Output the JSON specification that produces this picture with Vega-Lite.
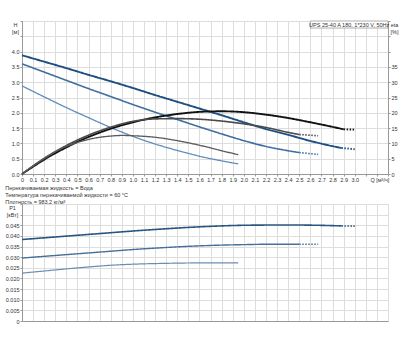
{
  "$schema": "https://vega.github.io/schema/vega-lite/v6.json",
  "background": "white",
  "padding": {"left": 4, "top": 18, "right": 2, "bottom": 2},
  "spacing": 2,
  "config": {
    "font": "Liberation Sans",
    "view": {"stroke": "#a8a8a8", "strokeWidth": 1},
    "axis": {
      "labelFontSize": 5.5, "labelColor": "#333", "gridColor": "#dddddd", "gridWidth": 1,
      "domainColor": "#999", "tickColor": "#999", "tickSize": 2, "labelPadding": 1,
      "labelOverlap": false, "labelFlush": false,
      "titleFontSize": 5.5, "titleFontWeight": "normal", "titleColor": "#333"
    },
    "title": {"fontSize": 5.5, "fontWeight": "normal", "color": "#333", "anchor": "start", "lineHeight": 7, "offset": -3}
  },
  "datasets": {
    "H": [
      {"s": "3", "seg": "a", "q": 0.0, "v": 3.88}, {"s": "3", "seg": "a", "q": 0.2, "v": 3.67}, {"s": "3", "seg": "a", "q": 0.4, "v": 3.46},
      {"s": "3", "seg": "a", "q": 0.6, "v": 3.24}, {"s": "3", "seg": "a", "q": 0.8, "v": 3.03}, {"s": "3", "seg": "a", "q": 1.0, "v": 2.81},
      {"s": "3", "seg": "a", "q": 1.2, "v": 2.58}, {"s": "3", "seg": "a", "q": 1.4, "v": 2.36}, {"s": "3", "seg": "a", "q": 1.6, "v": 2.14},
      {"s": "3", "seg": "a", "q": 1.8, "v": 1.92}, {"s": "3", "seg": "a", "q": 2.0, "v": 1.69}, {"s": "3", "seg": "a", "q": 2.2, "v": 1.47},
      {"s": "3", "seg": "a", "q": 2.4, "v": 1.28}, {"s": "3", "seg": "a", "q": 2.6, "v": 1.08}, {"s": "3", "seg": "a", "q": 2.8, "v": 0.91},
      {"s": "3", "seg": "a", "q": 2.88, "v": 0.85}, {"s": "3", "seg": "b", "q": 2.88, "v": 0.85}, {"s": "3", "seg": "b", "q": 3.0, "v": 0.81},
      {"s": "2", "seg": "a", "q": 0.0, "v": 3.60}, {"s": "2", "seg": "a", "q": 0.2, "v": 3.33}, {"s": "2", "seg": "a", "q": 0.4, "v": 3.06},
      {"s": "2", "seg": "a", "q": 0.6, "v": 2.79}, {"s": "2", "seg": "a", "q": 0.8, "v": 2.53}, {"s": "2", "seg": "a", "q": 1.0, "v": 2.27},
      {"s": "2", "seg": "a", "q": 1.2, "v": 2.02}, {"s": "2", "seg": "a", "q": 1.4, "v": 1.78}, {"s": "2", "seg": "a", "q": 1.6, "v": 1.54},
      {"s": "2", "seg": "a", "q": 1.8, "v": 1.31}, {"s": "2", "seg": "a", "q": 2.0, "v": 1.09}, {"s": "2", "seg": "a", "q": 2.2, "v": 0.90},
      {"s": "2", "seg": "a", "q": 2.4, "v": 0.76}, {"s": "2", "seg": "a", "q": 2.5, "v": 0.70}, {"s": "2", "seg": "b", "q": 2.5, "v": 0.70},
      {"s": "2", "seg": "b", "q": 2.67, "v": 0.64},
      {"s": "1", "seg": "a", "q": 0.0, "v": 2.88}, {"s": "1", "seg": "a", "q": 0.2, "v": 2.52}, {"s": "1", "seg": "a", "q": 0.4, "v": 2.17},
      {"s": "1", "seg": "a", "q": 0.6, "v": 1.84}, {"s": "1", "seg": "a", "q": 0.8, "v": 1.52}, {"s": "1", "seg": "a", "q": 1.0, "v": 1.23},
      {"s": "1", "seg": "a", "q": 1.2, "v": 0.98}, {"s": "1", "seg": "a", "q": 1.4, "v": 0.77}, {"s": "1", "seg": "a", "q": 1.6, "v": 0.58},
      {"s": "1", "seg": "a", "q": 1.8, "v": 0.43}, {"s": "1", "seg": "a", "q": 1.95, "v": 0.33}
    ],
    "ETA": [
      {"s": "3", "seg": "a", "q": 0.0, "v": 0}, {"s": "3", "seg": "a", "q": 0.1, "v": 2.4}, {"s": "3", "seg": "a", "q": 0.2, "v": 4.7},
      {"s": "3", "seg": "a", "q": 0.3, "v": 6.8}, {"s": "3", "seg": "a", "q": 0.4, "v": 8.7}, {"s": "3", "seg": "a", "q": 0.5, "v": 10.5},
      {"s": "3", "seg": "a", "q": 0.6, "v": 12.1}, {"s": "3", "seg": "a", "q": 0.8, "v": 14.8}, {"s": "3", "seg": "a", "q": 1.0, "v": 16.9},
      {"s": "3", "seg": "a", "q": 1.2, "v": 18.5}, {"s": "3", "seg": "a", "q": 1.4, "v": 19.6}, {"s": "3", "seg": "a", "q": 1.6, "v": 20.3},
      {"s": "3", "seg": "a", "q": 1.8, "v": 20.5}, {"s": "3", "seg": "a", "q": 2.0, "v": 20.2}, {"s": "3", "seg": "a", "q": 2.2, "v": 19.4},
      {"s": "3", "seg": "a", "q": 2.4, "v": 18.3}, {"s": "3", "seg": "a", "q": 2.6, "v": 16.9}, {"s": "3", "seg": "a", "q": 2.8, "v": 15.4},
      {"s": "3", "seg": "a", "q": 2.9, "v": 14.6}, {"s": "3", "seg": "b", "q": 2.9, "v": 14.6}, {"s": "3", "seg": "b", "q": 3.0, "v": 14.5},
      {"s": "2", "seg": "a", "q": 0.0, "v": 0}, {"s": "2", "seg": "a", "q": 0.1, "v": 2.6}, {"s": "2", "seg": "a", "q": 0.2, "v": 5.0},
      {"s": "2", "seg": "a", "q": 0.3, "v": 7.3}, {"s": "2", "seg": "a", "q": 0.4, "v": 9.3}, {"s": "2", "seg": "a", "q": 0.5, "v": 11.1},
      {"s": "2", "seg": "a", "q": 0.6, "v": 12.7}, {"s": "2", "seg": "a", "q": 0.8, "v": 15.3}, {"s": "2", "seg": "a", "q": 1.0, "v": 17.2},
      {"s": "2", "seg": "a", "q": 1.2, "v": 18.0}, {"s": "2", "seg": "a", "q": 1.4, "v": 18.1}, {"s": "2", "seg": "a", "q": 1.6, "v": 17.9},
      {"s": "2", "seg": "a", "q": 1.8, "v": 17.3}, {"s": "2", "seg": "a", "q": 2.0, "v": 16.4}, {"s": "2", "seg": "a", "q": 2.2, "v": 15.2},
      {"s": "2", "seg": "a", "q": 2.4, "v": 13.6}, {"s": "2", "seg": "a", "q": 2.5, "v": 12.9}, {"s": "2", "seg": "b", "q": 2.5, "v": 12.9},
      {"s": "2", "seg": "b", "q": 2.67, "v": 12.5},
      {"s": "1", "seg": "a", "q": 0.0, "v": 0}, {"s": "1", "seg": "a", "q": 0.1, "v": 2.7}, {"s": "1", "seg": "a", "q": 0.2, "v": 5.2},
      {"s": "1", "seg": "a", "q": 0.3, "v": 7.3}, {"s": "1", "seg": "a", "q": 0.4, "v": 9.0}, {"s": "1", "seg": "a", "q": 0.5, "v": 10.3},
      {"s": "1", "seg": "a", "q": 0.6, "v": 11.3}, {"s": "1", "seg": "a", "q": 0.7, "v": 12.0}, {"s": "1", "seg": "a", "q": 0.8, "v": 12.4},
      {"s": "1", "seg": "a", "q": 0.9, "v": 12.6}, {"s": "1", "seg": "a", "q": 1.0, "v": 12.5}, {"s": "1", "seg": "a", "q": 1.2, "v": 12.0},
      {"s": "1", "seg": "a", "q": 1.4, "v": 10.9}, {"s": "1", "seg": "a", "q": 1.6, "v": 9.4}, {"s": "1", "seg": "a", "q": 1.8, "v": 7.6},
      {"s": "1", "seg": "a", "q": 1.95, "v": 6.3}
    ],
    "P1": [
      {"s": "3", "seg": "a", "q": 0.0, "v": 0.0383}, {"s": "3", "seg": "a", "q": 0.25, "v": 0.0393}, {"s": "3", "seg": "a", "q": 0.5, "v": 0.0403},
      {"s": "3", "seg": "a", "q": 0.75, "v": 0.0413}, {"s": "3", "seg": "a", "q": 1.0, "v": 0.0423}, {"s": "3", "seg": "a", "q": 1.25, "v": 0.0432},
      {"s": "3", "seg": "a", "q": 1.5, "v": 0.0440}, {"s": "3", "seg": "a", "q": 1.75, "v": 0.0446}, {"s": "3", "seg": "a", "q": 2.0, "v": 0.0450},
      {"s": "3", "seg": "a", "q": 2.25, "v": 0.0451}, {"s": "3", "seg": "a", "q": 2.5, "v": 0.0451}, {"s": "3", "seg": "a", "q": 2.75, "v": 0.0449},
      {"s": "3", "seg": "a", "q": 2.88, "v": 0.0447}, {"s": "3", "seg": "b", "q": 2.88, "v": 0.0447}, {"s": "3", "seg": "b", "q": 3.0, "v": 0.0446},
      {"s": "2", "seg": "a", "q": 0.0, "v": 0.0296}, {"s": "2", "seg": "a", "q": 0.25, "v": 0.0306}, {"s": "2", "seg": "a", "q": 0.5, "v": 0.0316},
      {"s": "2", "seg": "a", "q": 0.75, "v": 0.0326}, {"s": "2", "seg": "a", "q": 1.0, "v": 0.0336}, {"s": "2", "seg": "a", "q": 1.25, "v": 0.0344},
      {"s": "2", "seg": "a", "q": 1.5, "v": 0.0351}, {"s": "2", "seg": "a", "q": 1.75, "v": 0.0356}, {"s": "2", "seg": "a", "q": 2.0, "v": 0.0359},
      {"s": "2", "seg": "a", "q": 2.25, "v": 0.0361}, {"s": "2", "seg": "a", "q": 2.5, "v": 0.0361}, {"s": "2", "seg": "b", "q": 2.5, "v": 0.0361},
      {"s": "2", "seg": "b", "q": 2.67, "v": 0.0361},
      {"s": "1", "seg": "a", "q": 0.0, "v": 0.0225}, {"s": "1", "seg": "a", "q": 0.2, "v": 0.0235}, {"s": "1", "seg": "a", "q": 0.4, "v": 0.0245},
      {"s": "1", "seg": "a", "q": 0.6, "v": 0.0254}, {"s": "1", "seg": "a", "q": 0.8, "v": 0.0262}, {"s": "1", "seg": "a", "q": 1.0, "v": 0.0267},
      {"s": "1", "seg": "a", "q": 1.2, "v": 0.0270}, {"s": "1", "seg": "a", "q": 1.4, "v": 0.0272}, {"s": "1", "seg": "a", "q": 1.6, "v": 0.0273},
      {"s": "1", "seg": "a", "q": 1.8, "v": 0.0273}, {"s": "1", "seg": "a", "q": 1.95, "v": 0.0273}
    ]
  },
  "vconcat": [
    {
      "width": 366,
      "height": 153,
      "layer": [
        {
          "layer": [
            {
              "data": {"name": "H"},
              "mark": {"type": "line", "interpolate": "monotone"},
              "encoding": {
                "x": {"field": "q", "type": "quantitative",
                  "scale": {"domain": [0, 3.3], "nice": false, "zero": false},
                  "axis": {"values": [0,0.1,0.2,0.3,0.4,0.5,0.6,0.7,0.8,0.9,1.0,1.1,1.2,1.3,1.4,1.5,1.6,1.7,1.8,1.9,2.0,2.1,2.2,2.3,2.4,2.5,2.6,2.7,2.8,2.9,3.0,3.1,3.2,3.3],
                    "labelExpr": "datum.value > 3.05 ? '' : (datum.value == 0 ? '0' : format(datum.value, '.1f'))",
                    "labelOverlap": false, "labelAngle": 0,
                    "title": "Q [м³/ч]", "titleX": 348, "titleY": 3, "titleAlign": "left", "titleBaseline": "top"}},
                "y": {"field": "v", "type": "quantitative",
                  "scale": {"domain": [0, 5], "nice": false},
                  "axis": {"values": [0,0.5,1,1.5,2,2.5,3,3.5,4,4.5,5],
                    "labelOverlap": false,
                    "labelExpr": "datum.value > 4.05 ? '' : format(datum.value, '.1f')",
                    "title": ["H", "[м]"], "titleAngle": 0, "titleX": -7, "titleY": 1, "titleAlign": "center", "titleBaseline": "top"}},
                "color": {"field": "s", "type": "nominal", "legend": null,
                  "scale": {"domain": ["3", "2", "1"], "range": ["#1d4f82", "#3f6f9f", "#5e8cbc"]}},
                "strokeWidth": {"field": "s", "type": "nominal", "legend": null,
                  "scale": {"domain": ["3", "2", "1"], "range": [1.9, 1.3, 1.3]}},
                "strokeDash": {"field": "seg", "type": "nominal", "legend": null,
                  "scale": {"domain": ["a", "b"], "range": [[1, 0], [1.5, 1.5]]}},
                "detail": [{"field": "s"}, {"field": "seg"}]
              }
            },
            {
              "data": {"values": [{"label": "UPS 25-40 A 180, 1*230 V, 50Hz"}]},
              "mark": {"type": "rect", "fill": "white", "stroke": "#999", "strokeWidth": 0.8},
              "encoding": {
                "x": {"datum": 2.6, "type": "quantitative",
                  "scale": {"domain": [0, 3.3], "nice": false, "zero": false},
                  "axis": {"values": [0,0.1,0.2,0.3,0.4,0.5,0.6,0.7,0.8,0.9,1.0,1.1,1.2,1.3,1.4,1.5,1.6,1.7,1.8,1.9,2.0,2.1,2.2,2.3,2.4,2.5,2.6,2.7,2.8,2.9,3.0,3.1,3.2,3.3],
                    "labelExpr": "datum.value > 3.05 ? '' : (datum.value == 0 ? '0' : format(datum.value, '.1f'))",
                    "labelOverlap": false, "labelAngle": 0,
                    "title": "Q [м³/ч]", "titleX": 348, "titleY": 3, "titleAlign": "left", "titleBaseline": "top"}},
                "x2": {"datum": 3.3},
                "y": {"datum": 4.77, "type": "quantitative",
                  "scale": {"domain": [0, 5], "nice": false},
                  "axis": {"values": [0,0.5,1,1.5,2,2.5,3,3.5,4,4.5,5],
                    "labelOverlap": false,
                    "labelExpr": "datum.value > 4.05 ? '' : format(datum.value, '.1f')",
                    "title": ["H", "[м]"], "titleAngle": 0, "titleX": -7, "titleY": 1, "titleAlign": "center", "titleBaseline": "top"}},
                "y2": {"datum": 5.0}
              }
            },
            {
              "data": {"values": [{"label": "UPS 25-40 A 180, 1*230 V, 50Hz"}]},
              "mark": {"type": "text", "fontSize": 5.5, "color": "#333", "align": "center", "baseline": "middle"},
              "encoding": {
                "x": {"datum": 2.95, "type": "quantitative",
                  "scale": {"domain": [0, 3.3], "nice": false, "zero": false},
                  "axis": {"values": [0,0.1,0.2,0.3,0.4,0.5,0.6,0.7,0.8,0.9,1.0,1.1,1.2,1.3,1.4,1.5,1.6,1.7,1.8,1.9,2.0,2.1,2.2,2.3,2.4,2.5,2.6,2.7,2.8,2.9,3.0,3.1,3.2,3.3],
                    "labelExpr": "datum.value > 3.05 ? '' : (datum.value == 0 ? '0' : format(datum.value, '.1f'))",
                    "labelOverlap": false, "labelAngle": 0,
                    "title": "Q [м³/ч]", "titleX": 348, "titleY": 3, "titleAlign": "left", "titleBaseline": "top"}},
                "y": {"datum": 4.885, "type": "quantitative",
                  "scale": {"domain": [0, 5], "nice": false},
                  "axis": {"values": [0,0.5,1,1.5,2,2.5,3,3.5,4,4.5,5],
                    "labelOverlap": false,
                    "labelExpr": "datum.value > 4.05 ? '' : format(datum.value, '.1f')",
                    "title": ["H", "[м]"], "titleAngle": 0, "titleX": -7, "titleY": 1, "titleAlign": "center", "titleBaseline": "top"}},
                "text": {"field": "label"}
              }
            }
          ]
        },
        {
          "data": {"name": "ETA"},
          "mark": {"type": "line", "interpolate": "monotone"},
          "encoding": {
            "x": {"field": "q", "type": "quantitative",
              "scale": {"domain": [0, 3.3], "nice": false, "zero": false},
              "axis": {"values": [0,0.1,0.2,0.3,0.4,0.5,0.6,0.7,0.8,0.9,1.0,1.1,1.2,1.3,1.4,1.5,1.6,1.7,1.8,1.9,2.0,2.1,2.2,2.3,2.4,2.5,2.6,2.7,2.8,2.9,3.0,3.1,3.2,3.3],
                "labelExpr": "datum.value > 3.05 ? '' : (datum.value == 0 ? '0' : format(datum.value, '.1f'))",
                "labelOverlap": false, "labelAngle": 0,
                "title": "Q [м³/ч]", "titleX": 348, "titleY": 3, "titleAlign": "left", "titleBaseline": "top"}},
            "y": {"field": "v", "type": "quantitative",
              "scale": {"domain": [0, 50], "nice": false},
              "axis": {"orient": "right", "grid": false, "values": [0,5,10,15,20,25,30,35,40,45,50],
                "labelOverlap": false,
                "labelExpr": "datum.value > 36 ? '' : datum.label",
                "title": ["eta", "[%]"], "titleAngle": 0, "titleX": 6, "titleY": 1, "titleAlign": "center", "titleBaseline": "top"}},
            "color": {"field": "s", "type": "nominal", "legend": null,
              "scale": {"domain": ["3", "2", "1"], "range": ["#111111", "#4a4a4a", "#5a5a5a"]}},
            "strokeWidth": {"field": "s", "type": "nominal", "legend": null,
              "scale": {"domain": ["3", "2", "1"], "range": [1.9, 1.3, 1.3]}},
            "strokeDash": {"field": "seg", "type": "nominal", "legend": null,
              "scale": {"domain": ["a", "b"], "range": [[1, 0], [1.5, 1.5]]}},
            "detail": [{"field": "s"}, {"field": "seg"}]
          }
        }
      ],
      "resolve": {"scale": {"y": "independent", "color": "independent", "strokeWidth": "independent"}}
    },
    {
      "width": 366,
      "height": 117,
      "title": {"text": ["Перекачиваемая жидкость = Вода", "Температура перекачиваемой жидкости = 60 °C", "Плотность = 983.2 кг/м³"]},
      "data": {"name": "P1"},
      "mark": {"type": "line", "interpolate": "monotone"},
      "encoding": {
        "x": {"field": "q", "type": "quantitative",
          "scale": {"domain": [0, 3.3], "nice": false, "zero": false},
          "axis": {"values": [0,0.1,0.2,0.3,0.4,0.5,0.6,0.7,0.8,0.9,1.0,1.1,1.2,1.3,1.4,1.5,1.6,1.7,1.8,1.9,2.0,2.1,2.2,2.3,2.4,2.5,2.6,2.7,2.8,2.9,3.0,3.1,3.2,3.3],
            "labels": false, "ticks": false, "title": null}},
        "y": {"field": "v", "type": "quantitative",
          "scale": {"domain": [0, 0.055], "nice": false},
          "axis": {"values": [0,0.005,0.01,0.015,0.02,0.025,0.03,0.035,0.04,0.045,0.05,0.055],
            "labelOverlap": false,
            "labelExpr": "datum.value > 0.0455 ? '' : (datum.value == 0 ? '0' : format(datum.value, '.3f'))",
            "title": ["P1", "[кВт]"], "titleAngle": 0, "titleX": -10, "titleY": 1, "titleAlign": "center", "titleBaseline": "top"}},
        "color": {"field": "s", "type": "nominal", "legend": null,
          "scale": {"domain": ["3", "2", "1"], "range": ["#2a5582", "#45709a", "#6a8db0"]}},
        "strokeWidth": {"field": "s", "type": "nominal", "legend": null,
          "scale": {"domain": ["3", "2", "1"], "range": [1.6, 1.2, 1.2]}},
        "strokeDash": {"field": "seg", "type": "nominal", "legend": null,
          "scale": {"domain": ["a", "b"], "range": [[1, 0], [1.5, 1.5]]}},
        "detail": [{"field": "s"}, {"field": "seg"}]
      }
    }
  ]
}
